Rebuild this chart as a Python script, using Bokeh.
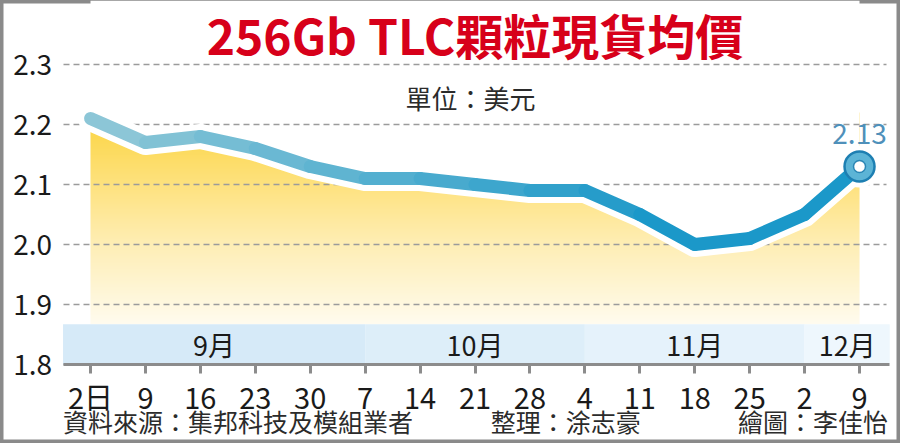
import numpy as np
from bokeh.plotting import figure
from bokeh.models import LinearAxis, FixedTicker, Grid, Range1d
from bokeh.core.properties import value
from bokeh.embed import file_html
from bokeh.resources import INLINE

# ---------------- data ----------------
title_text = "256Gb TLC顆粒現貨均價"
unit_text = "單位：美元"
x_labels = ["2日", "9", "16", "23", "30", "7", "14", "21", "28", "4", "11", "18", "25", "2", "9"]
prices = [2.21, 2.17, 2.18, 2.16, 2.13, 2.11, 2.11, 2.10, 2.09, 2.09, 2.05, 2.00, 2.01, 2.05, 2.13]
months = ["9月", "10月", "11月", "12月"]
month_start = [0, 5, 9, 13]
y_ticks = [1.8, 1.9, 2.0, 2.1, 2.2, 2.3]
source_text = "資料來源：集邦科技及模組業者"
editor_text = "整理：涂志豪"
artist_text = "繪圖：李佳怡"

# ---------------- layout ----------------
FONT = "Noto Sans CJK TC"
W, H = 900, 443
n = len(prices)
xs = list(range(n))
PX = 54.93          # px per category step
X0 = 90             # px of first category
YPX = 600.0         # px per price unit
YAX = 364           # px of the 1.8 axis line
y_base = y_ticks[0]
x_start = -X0 / PX
x_end = x_start + W / PX
y_start = y_base - (H - YAX) / YPX
y_end = y_base + YAX / YPX

p = figure(width=W, height=H, x_range=Range1d(x_start, x_end), y_range=Range1d(y_start, y_end),
           x_axis_location=None, y_axis_location=None, toolbar_location=None,
           output_backend="svg", min_border=0, background_fill_color="white",
           border_fill_color="white", outline_line_color="#8a8a8a", outline_line_width=6)
p.xgrid.visible = False
p.ygrid.visible = False

left_edge = -0.5
right_edge = n - 0.45
band_top = y_base + 0.067

# ---------------- gradient area ----------------
img_top = max(prices) + 0.01
ny = 400
yy = np.linspace(band_top, img_top, ny)
stops = [band_top, 1.9, 2.0, 2.1, 2.2]
r = np.interp(yy, stops, [255, 255, 254, 254, 252])
g = np.interp(yy, stops, [252, 248, 238, 226, 214])
b = np.interp(yy, stops, [240, 224, 181, 126, 72])
img = np.zeros((ny, 1), dtype=np.uint32)
view = img.view(dtype=np.uint8).reshape((ny, 1, 4))
view[:, 0, 0] = r.astype(np.uint8)
view[:, 0, 1] = g.astype(np.uint8)
view[:, 0, 2] = b.astype(np.uint8)
view[:, 0, 3] = 255
p.image_rgba(image=[img], x=xs[0], y=band_top, dw=xs[-1] - xs[0], dh=img_top - band_top, level="image")

mask_x = xs + [xs[-1], xs[0]]
mask_y = prices + [y_end, y_end]
p.patch(mask_x, mask_y, fill_color="white", line_color=None, level="image")

# ---------------- month bands ----------------
edges = [left_edge] + month_start[1:] + [right_edge]
band_colors = ["#d6eaf8", "#ddeef9", "#e5f2fb", "#eef7fd"]
p.quad(left=edges[:-1], right=edges[1:], bottom=y_base, top=band_top,
       fill_color=band_colors, line_color=None, level="image")
mcx = [(edges[i] + edges[i + 1]) / 2 for i in range(len(months))]
p.text(x=mcx, y=[(y_base + band_top) / 2] * len(months), text=months,
       text_font=value(FONT), text_font_size="27px", text_color="#1a1a1a",
       text_align="center", text_baseline="middle")

# ---------------- grid ----------------
grid = Grid(dimension=1, ticker=FixedTicker(ticks=y_ticks), grid_line_color="#9b9b9b",
            grid_line_dash="6 4", grid_line_width=1.3)
try:
    grid.cross_bounds = (left_edge, right_edge - 0.05)
except Exception:
    pass
p.add_layout(grid, "center")

# ---------------- line ----------------
p.line(xs, prices, line_color="white", line_width=25, line_join="round", line_cap="round")
p.scatter([xs[-1]], [prices[-1]], size=42, fill_color="white", line_color=None)

c0 = np.array([146, 201, 216])
c1 = np.array([27, 152, 201])
seg_colors = []
for i in range(n - 1):
    t = min(1.0, (i + 0.5) / 10.5)
    c = (c0 * (1 - t) + c1 * t).astype(int)
    seg_colors.append("#%02x%02x%02x" % tuple(c))
p.multi_line([[xs[i], xs[i + 1]] for i in range(n - 1)],
             [[prices[i], prices[i + 1]] for i in range(n - 1)],
             line_color=seg_colors, line_width=13, line_cap="round", line_join="round")

p.scatter([xs[-1]], [prices[-1]], size=30, fill_color="#5cb4d6", line_color="#1d7fb2", line_width=2.5)
p.scatter([xs[-1]], [prices[-1]], size=12, fill_color="white", line_color="#2a86b5", line_width=1.5)
p.text(x=[xs[-1]], y=[prices[-1]], text=["%.2f" % prices[-1]], y_offset=-33,
       text_font=value(FONT), text_font_size="28px", text_color="#4f90ba",
       text_align="center", text_baseline="middle")

# ---------------- axes ----------------
xaxis = LinearAxis(fixed_location=y_base, ticker=FixedTicker(ticks=xs),
                   major_label_overrides={i: lab for i, lab in enumerate(x_labels)},
                   bounds=(left_edge, right_edge),
                   axis_line_color="#8c8c8c", axis_line_width=3,
                   major_tick_line_color="#8c8c8c", major_tick_line_width=3,
                   major_tick_in=0, major_tick_out=9, minor_tick_line_color=None,
                   major_label_standoff=1, major_label_text_font=FONT,
                   major_label_text_font_size="29px", major_label_text_color="#1a1a1a")
p.add_layout(xaxis, "below")

yaxis = LinearAxis(fixed_location=left_edge, ticker=FixedTicker(ticks=y_ticks),
                   major_label_overrides={t: "%.1f" % t for t in y_ticks},
                   axis_line_color=None, major_tick_line_color=None, minor_tick_line_color=None,
                   major_label_standoff=5, major_label_text_font=FONT,
                   major_label_text_font_size="28px", major_label_text_color="#1a1a1a")
p.add_layout(yaxis, "left")

# ---------------- texts ----------------
p.text(x=[(xs[0] + xs[-1]) / 2], y=[y_base + (YAX - 33) / YPX], text=[title_text],
       text_font=value(FONT), text_font_size="48px", text_font_style="bold",
       text_color="#d7001a", text_align="center", text_baseline="middle")
p.text(x=[6.92], y=[y_base + (YAX - 97) / YPX], text=[unit_text],
       text_font=value(FONT), text_font_size="26px", text_color="#2b2b2b",
       text_align="center", text_baseline="middle")
foot_y = y_base - (420 - YAX) / YPX
p.text(x=[left_edge], y=[foot_y], text=[source_text], text_font=value(FONT),
       text_font_size="25px", text_color="#2b2b2b", text_align="left", text_baseline="middle")
p.text(x=[8.65], y=[foot_y], text=[editor_text], text_font=value(FONT),
       text_font_size="25px", text_color="#2b2b2b", text_align="center", text_baseline="middle")
p.text(x=[right_edge - 0.03], y=[foot_y], text=[artist_text], text_font=value(FONT),
       text_font_size="25px", text_color="#2b2b2b", text_align="right", text_baseline="middle")

open("out.html", "w").write(file_html(p, INLINE))
